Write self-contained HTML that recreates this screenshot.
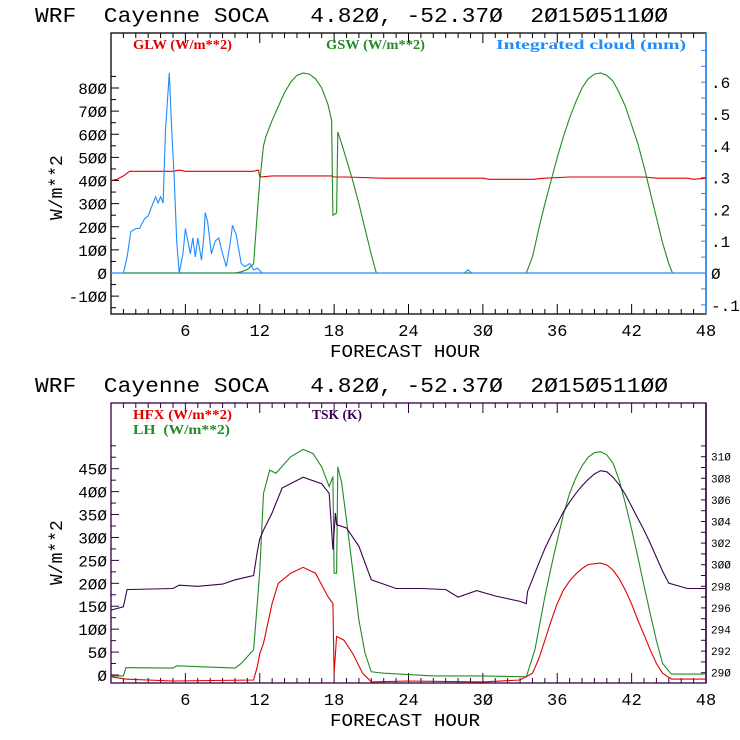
<!DOCTYPE html>
<html><head><meta charset="utf-8"><style>
body{margin:0;background:#fff}
svg{display:block}
text{white-space:pre}
</style></head><body>
<svg id="c" width="740" height="740" viewBox="0 0 740 740" xmlns="http://www.w3.org/2000/svg" font-family="'Liberation Mono', monospace"></svg>
<script>
// ---------- data ----------
const glwHours=[0,0.5,1,1.5,5,5.5,6,8,11.5,11.9,12,13,17.8,18,19,22,30,30.5,34,35,37,43,44,46.5,47,48];
const glwVals=[400,405,420,440,440,445,440,440,440,445,415,420,420,415,415,410,410,405,405,410,415,415,410,410,405,410];
const gswHours=[0,10,10.5,11,11.5,11.8,12,12.3,12.5,13,13.5,14,14.5,15,15.5,16,16.5,17,17.5,17.8,17.9,18.2,18.3,18.6,19,19.5,20,20.5,21,21.4,33.5,34,34.5,35,35.5,36,36.5,37,37.5,38,38.5,39,39.5,40,40.5,41,41.5,42,42.5,43,43.5,44,44.5,45,45.3,48];
const gswVals=[0,0,5,15,40,260,400,550,590,660,720,780,825,855,865,860,840,800,730,660,250,260,610,560,490,400,300,190,80,0,0,70,190,300,400,500,590,670,740,800,840,860,865,855,830,780,720,640,560,460,350,240,130,40,0,0];
const cloudHours=[0,1.0,1.3,1.6,2.0,2.3,2.7,3.0,3.4,3.6,3.8,4.0,4.2,4.4,4.7,4.9,5.1,5.3,5.5,5.8,6.0,6.2,6.4,6.6,6.8,7.0,7.3,7.5,7.6,7.8,8.1,8.4,8.7,9.0,9.3,9.6,9.8,10.1,10.5,10.8,11.2,11.5,11.8,12.2,28.5,28.8,29.1,48];
const cloudVals=[0,0,.05,.13,.14,.14,.17,.18,.22,.24,.22,.24,.22,.45,.63,.45,.3,.1,0,.06,.14,.10,.06,.11,.05,.11,.04,.12,.19,.16,.06,.10,.11,.06,.02,.09,.15,.12,.03,.02,.03,.01,.015,0,0,.01,0,0];
const lhHours=[0,1,1.2,5,5.3,10,10.5,11.5,11.8,12,12.3,12.8,13.3,13.8,14.5,15.5,16.3,17,17.6,17.9,18,18.2,18.3,18.6,19,19.5,20,20.5,21,22,26,30,33.5,34.2,35,35.5,36,36.5,37,37.5,38,38.5,39,39.5,40,40.5,41,41.5,42,42.5,43,43.5,44,44.5,45.2,48];
const lhVals=[-2,-2,16,15,20,15,25,55,156,229,396,447,440,455,476,492,483,454,411,433,222,222,454,420,338,229,120,47,7,4,-2,-2,-4,55,171,235,294,350,396,430,456,475,485,487,480,462,425,374,318,258,195,134,75,25,2,2];
const hfxHours=[0,1.2,5,11.5,11.8,12,12.3,13,13.5,14.5,15.5,16.5,17.5,17.9,18,18.2,18.8,19.5,20.3,21,24,30,33,34,34.5,35,35.5,36,36.5,37,37.5,38,38.5,39.5,40,40.5,41,41.5,42,42.5,43,43.5,44,44.5,45.2,48];
const hfxVals=[-4,-9,-13,-11,18,47,69,156,200,222,235,222,171,156,4,84,76,47,4,-15,-13,-15,-11,4,35,76,118,156,185,205,220,232,241,244,240,229,210,185,155,120,88,55,25,4,-9,-9];
const tskHours=[0,1,1.3,1.6,5,5.5,7,9,10,11.5,11.8,12,12.3,13,13.8,15.5,17,17.6,17.9,18.1,18.2,19,20,21,23,25,27,28,29.5,31,33,33.5,33.6,34.5,35,35.5,36,36.5,37,37.5,38,38.5,39,39.5,40,40.5,41,41.5,42,42.5,43,43.5,44,44.5,45,46.5,48];
const tskVals=[295.8,296.1,297.7,297.7,297.8,298.1,298.0,298.2,298.6,299.0,301.2,302.4,303.2,304.8,307.1,308.1,307.5,306.6,301.4,304.8,303.7,303.4,301.7,298.6,297.8,297.8,297.7,297.0,297.6,297.1,296.6,296.4,297.5,300.1,301.5,302.7,303.8,304.9,305.8,306.6,307.3,307.9,308.4,308.7,308.6,308.1,307.4,306.5,305.4,304.3,303.2,302.0,300.7,299.4,298.3,297.8,297.8];
const xTicks=[6,12,18,24,30,36,42,48];
const topLeftTicks=[-100,0,100,200,300,400,500,600,700,800];
const topRightTicks=[-.1,0,.1,.2,.3,.4,.5,.6];
const botLeftTicks=[0,50,100,150,200,250,300,350,400,450];
const botRightTicks=[290,292,294,296,298,300,302,304,306,308,310];

// ---------- helpers ----------
const svg=document.getElementById('c');
const NS='http://www.w3.org/2000/svg';
function mk(tag,attrs,parent){const e=document.createElementNS(NS,tag);for(const k in attrs)e.setAttribute(k,attrs[k]);(parent||svg).appendChild(e);return e;}
const L=111,R=706;
const xs=h=>L+h*(R-L)/48;
const yT=v=>273-v*(185/800);
const yTR=v=>273-v*318;
const yB=v=>675-v*(206.3/450);
const yBR=v=>672.7-(v-290)*10.8;

function txt(x,y,s,attrs,name,parent){const t=mk('text',Object.assign({x:x,y:y},attrs),parent);t.textContent=s;


return t;}
function series(hours,vals,xf,yf,color,name,g){let d='';for(let i=0;i<hours.length;i++){d+=(i?'L':'M')+xf(hours[i]).toFixed(1)+','+yf(vals[i]).toFixed(1);}
const p=mk('path',{d:d,fill:'none',stroke:color,'stroke-width':1.1},g);


return p;}

function panel(top,bot,frameColor,rightColor,leftTicks,lyf,lminor,rightTicks,ryf,rminor,rfmt,prefix,rfs){
  const g=mk('g',{});
  
  
  mk('rect',{x:L,y:top,width:R-L,height:bot-top,fill:'none',stroke:frameColor,'stroke-width':1.3},g);
  mk('line',{x1:R,y1:top,x2:R,y2:bot,stroke:rightColor,'stroke-width':1.5},g);
  for(let h=1;h<48;h++){const maj=h%6==0;const x=xs(h);
    mk('line',{x1:x,y1:bot,x2:x,y2:bot-(maj?10:5),stroke:frameColor},g);
    mk('line',{x1:x,y1:top,x2:x,y2:top+(maj?10:5),stroke:frameColor},g);}
  xTicks.forEach(h=>txt(xs(h),bot+22,String(h).replace(/0/g,'Ø'),{'font-size':17,'text-anchor':'middle',fill:'#000'},prefix+'-x-tick-'+h,g));
  for(let v=lminor[0];v<=lminor[1];v+=lminor[2]){const y=lyf(v);if(y<top||y>bot)continue;
    const maj=leftTicks.includes(v);mk('line',{x1:L,y1:y,x2:L+(maj?8:5),y2:y,stroke:frameColor},g);}
  leftTicks.forEach(v=>txt(L-4,lyf(v)+6,String(v).replace(/0/g,'Ø'),{'font-size':16,'text-anchor':'end',fill:'#000'},prefix+'-y-tick-'+v,g));
  for(let v=rminor[0];v<=rminor[1]+1e-9;v+=rminor[2]){const y=ryf(v);if(y<top||y>bot)continue;
    mk('line',{x1:R,y1:y,x2:R-5,y2:y,stroke:rightColor},g);}
  rightTicks.forEach(v=>txt(R+5,ryf(v)+(rfs>12?6:4),rfmt(v),{'font-size':rfs,fill:'#000'},prefix+'-y2-tick-'+v,g));
  txt(330,bot+43,'FORECAST HOUR',{'font-size':18,fill:'#000',textLength:150,lengthAdjust:'spacingAndGlyphs'},prefix+'-x-axis-title',g);
  return g;
}
const titleStr='WRF  Cayenne SOCA   4.82Ø, -52.37Ø  2Ø15Ø511ØØ';
const serif="'Liberation Serif',serif";

// ---------- top panel ----------
txt(35,22,titleStr,{'font-size':21,fill:'#000',textLength:633,lengthAdjust:'spacingAndGlyphs'},'top-title');
panel(33,314,'#000','#1e8cff',topLeftTicks,yT,[-150,850,50],topRightTicks,yTR,[-0.15,0.7,0.05],v=>v==0?'Ø':(v<0?'-.'+Math.round(-v*10):'.'+Math.round(v*10)),'top',16);
txt(0,0,'W/m**2',{'font-size':18,fill:'#000',transform:'translate(62,220) rotate(-90)'},'top-y-axis-title');
mk('line',{x1:L,y1:yT(0),x2:R,y2:yT(0),stroke:'#1e8cff','stroke-width':1.3});
series(glwHours,glwVals,xs,yT,'#e00000','glw-line');
series(gswHours,gswVals,xs,yT,'#228b22','gsw-line');
series(cloudHours,cloudVals,xs,yTR,'#1e8cff','cloud-line');
txt(133,49,'GLW (W/m**2)',{'font-size':14,fill:'#e00000','font-family':serif,'font-weight':'bold',textLength:99,lengthAdjust:'spacingAndGlyphs'},'legend-glw');
txt(326,49,'GSW (W/m**2)',{'font-size':14,fill:'#228b22','font-family':serif,'font-weight':'bold',textLength:99,lengthAdjust:'spacingAndGlyphs'},'legend-gsw');
txt(496,49,'Integrated cloud (mm)',{'font-size':14,fill:'#1e8cff','font-family':serif,'font-weight':'bold',textLength:190,lengthAdjust:'spacingAndGlyphs'},'legend-cloud');

// ---------- bottom panel ----------
txt(35,392,titleStr,{'font-size':21,fill:'#000',textLength:633,lengthAdjust:'spacingAndGlyphs'},'bottom-title');
panel(403,683,'#300040','#300040',botLeftTicks,yB,[-25,500,25],botRightTicks,yBR,[289,311,1],v=>String(v).replace(/0/g,'Ø'),'bottom',11);
txt(0,0,'W/m**2',{'font-size':18,fill:'#000',transform:'translate(62,585) rotate(-90)'},'bottom-y-axis-title');
series(lhHours,lhVals,xs,yB,'#228b22','lh-line');
series(tskHours,tskVals,xs,yBR,'#3c0050','tsk-line');
series(hfxHours,hfxVals,xs,yB,'#e00000','hfx-line');
txt(133,419,'HFX (W/m**2)',{'font-size':14,fill:'#e00000','font-family':serif,'font-weight':'bold',textLength:99,lengthAdjust:'spacingAndGlyphs'},'legend-hfx');
txt(133,434,'LH  (W/m**2)',{'font-size':14,fill:'#228b22','font-family':serif,'font-weight':'bold',textLength:97,lengthAdjust:'spacingAndGlyphs'},'legend-lh');
txt(312,419,'TSK (K)',{'font-size':14,fill:'#3c0050','font-family':serif,'font-weight':'bold',textLength:50,lengthAdjust:'spacingAndGlyphs'},'legend-tsk');
</script>
</body></html>
